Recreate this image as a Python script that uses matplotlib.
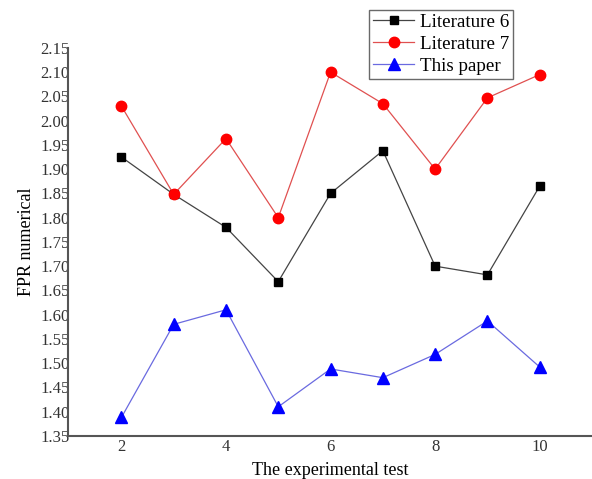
import numpy as np
import matplotlib.pyplot as plt

plt.rcParams['font.family'] = ['Liberation Serif', 'DejaVu Serif']

tests = [2, 3, 4, 5, 6, 7, 8, 9, 10]
lit6 = [1.925, 1.848, 1.780, 1.668, 1.850, 1.938, 1.700, 1.682, 1.865]
lit7 = [2.030, 1.848, 1.963, 1.800, 2.100, 2.035, 1.900, 2.047, 2.095]
ours = [1.388, 1.580, 1.610, 1.410, 1.488, 1.470, 1.518, 1.587, 1.492]
yticks = np.arange(1.35, 2.151, 0.05)

fig = plt.figure(figsize=(5.92, 4.79), dpi=100)
ax = fig.add_axes([0.115, 0.09, 0.885, 0.81])

ax.plot(tests, lit6, '-', color='#444444', lw=0.9, marker='s', ms=6,
        mfc='black', mec='black', label='Literature 6')
ax.plot(tests, lit7, '-', color='#e05050', lw=0.9, marker='o', ms=7.5,
        mfc='red', mec='red', label='Literature 7')
ax.plot(tests, ours, '-', color='#6a6ae0', lw=0.9, marker='^', ms=8,
        mfc='blue', mec='blue', label='This paper')

ax.set_xlim(0.98, 11)
ax.set_ylim(1.35, 2.15)
ax.set_xticks([2, 4, 6, 8, 10])
ax.set_yticks(yticks)
ax.set_yticklabels(['%.2f' % v for v in yticks])
ax.tick_params(axis='both', length=0, labelsize=12, colors='#333333')
ax.tick_params(axis='y', pad=-1)
ax.tick_params(axis='x', pad=2)

for s in ['top', 'right']:
    ax.spines[s].set_visible(False)
for s in ['left', 'bottom']:
    ax.spines[s].set_color('#555555')
    ax.spines[s].set_linewidth(1.5)

ax.set_xlabel('The experimental test', fontsize=13, labelpad=5)
ax.set_ylabel('FPR numerical', fontsize=13, labelpad=4)

leg = fig.legend(loc='upper left', bbox_to_anchor=(0.623, 0.98), fontsize=13.7,
                 frameon=True, fancybox=False, edgecolor='#444444',
                 borderpad=0.2, labelspacing=0.25, handlelength=2.2,
                 handletextpad=0.3, borderaxespad=0)
leg.get_frame().set_linewidth(1.0)

fig.savefig('out.png', dpi=100)
